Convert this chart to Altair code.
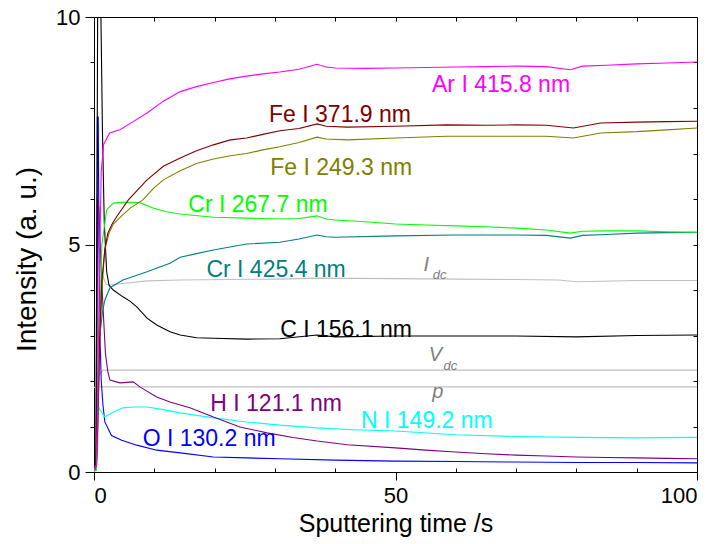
import altair as alt
import pandas as pd

# ---- emission line intensities vs sputtering time ----
ar_t = [0, 0.4, 0.6, 0.9, 1.2, 1.6, 2.6, 4.3, 6.5, 8.8, 11.5, 14.3, 17, 19.8, 22.5, 25.3, 28, 30.8, 34, 37, 38.5, 40, 45, 50, 55, 60, 65, 70, 75, 79, 81, 85, 90, 95, 100]
ar_v = [0.05, 0.15, 1.5, 4.5, 6.6, 7.2, 7.45, 7.52, 7.7, 7.89, 8.15, 8.36, 8.47, 8.56, 8.64, 8.70, 8.75, 8.79, 8.85, 8.96, 8.90, 8.88, 8.87, 8.88, 8.89, 8.90, 8.91, 8.92, 8.91, 8.84, 8.92, 8.94, 8.97, 8.99, 9.01]

fe371_t = [0, 0.4, 0.6, 0.9, 1.3, 1.8, 2.3, 3.0, 3.8, 5.7, 8.8, 11.5, 14.3, 17, 19.8, 22.6, 25.3, 28, 30.8, 34, 37, 38.5, 42, 50, 58.5, 65, 70, 75, 79.5, 82, 84, 90, 95, 100]
fe371_v = [0.05, 0.15, 1.0, 2.8, 4.2, 4.9, 5.25, 5.45, 5.62, 5.98, 6.42, 6.72, 6.9, 7.06, 7.19, 7.30, 7.34, 7.42, 7.50, 7.55, 7.65, 7.60, 7.58, 7.60, 7.63, 7.62, 7.63, 7.62, 7.56, 7.62, 7.67, 7.69, 7.70, 7.71]

fe249_t = [0, 0.4, 0.6, 0.9, 1.3, 1.8, 2.5, 3.2, 4.5, 6.0, 8.1, 10, 11.5, 14.3, 17, 19.8, 22.6, 25.3, 28, 30.8, 34, 37, 38.5, 42, 50, 58.5, 65, 70, 75, 79.5, 82, 84, 90, 95, 100]
fe249_v = [0.05, 0.12, 0.9, 2.5, 4.0, 4.9, 5.25, 5.45, 5.62, 5.8, 5.98, 6.25, 6.42, 6.62, 6.78, 6.88, 6.95, 7.0, 7.08, 7.15, 7.24, 7.36, 7.32, 7.30, 7.34, 7.38, 7.38, 7.38, 7.38, 7.34, 7.40, 7.45, 7.48, 7.52, 7.56]

cr267_t = [0, 0.4, 0.6, 0.9, 1.3, 2.1, 3.2, 4.8, 7.6, 9.8, 12, 14.3, 19.8, 25.3, 30.8, 34, 37, 38.5, 40, 45, 50, 55, 60, 65, 70, 75, 79, 81, 85, 90, 95, 100]
cr267_v = [0.02, 0.05, 0.5, 3.0, 5.0, 5.76, 5.91, 5.93, 5.92, 5.80, 5.72, 5.67, 5.60, 5.58, 5.56, 5.57, 5.63, 5.56, 5.54, 5.50, 5.45, 5.43, 5.41, 5.39, 5.36, 5.32, 5.25, 5.29, 5.30, 5.30, 5.28, 5.27]

cr425_t = [0, 0.4, 0.6, 1.0, 1.4, 1.8, 2.65, 4.8, 8.8, 12.6, 14.3, 17, 19.8, 25.3, 30.8, 34, 37, 38.5, 40, 50, 60, 70, 75, 79, 81, 85, 90, 95, 100]
cr425_v = [0.02, 0.05, 1.0, 3.05, 3.5, 3.78, 4.05, 4.22, 4.40, 4.59, 4.72, 4.80, 4.88, 5.01, 5.05, 5.12, 5.21, 5.17, 5.16, 5.19, 5.21, 5.21, 5.20, 5.14, 5.20, 5.22, 5.25, 5.26, 5.27]

c_t = [0, 0.3, 0.5, 0.65, 1.0, 1.15, 1.4, 1.7, 2.1, 2.5, 3.2, 4.8, 6, 7.1, 8.8, 10.4, 12.6, 14.3, 17, 19.8, 25.3, 30.8, 37, 40, 50, 60, 70, 80, 90, 100]
c_v = [0.02, 0.1, 6.0, 12.0, 12.0, 10.0, 7.5, 5.5, 4.4, 4.1, 4.0, 3.85, 3.75, 3.63, 3.38, 3.23, 3.08, 3.01, 2.95, 2.94, 2.92, 2.93, 3.01, 2.97, 2.99, 2.99, 2.99, 2.97, 3.00, 3.01]

h_t = [0, 0.4, 0.6, 0.8, 1.1, 1.5, 1.9, 2.3, 2.65, 4.3, 6.5, 7.6, 10.4, 12.6, 15.9, 19.8, 24.2, 28.7, 33, 37, 42, 50, 55, 60, 65, 70, 75, 80, 85, 90, 95, 100]
h_v = [0.1, 0.2, 6.0, 5.8, 4.8, 3.6, 2.6, 2.2, 2.02, 1.96, 1.98, 1.87, 1.65, 1.54, 1.41, 1.21, 0.99, 0.86, 0.76, 0.68, 0.60, 0.53, 0.48, 0.44, 0.40, 0.37, 0.35, 0.33, 0.32, 0.31, 0.30, 0.29]

n_t = [0, 0.4, 0.6, 1.0, 1.8, 3.2, 4.8, 6.5, 8.8, 11.5, 14.3, 19.8, 25.3, 30.8, 37, 43, 50, 60, 70, 80, 90, 100]
n_v = [0.02, 0.05, 1.5, 1.36, 1.21, 1.32, 1.41, 1.43, 1.43, 1.37, 1.30, 1.19, 1.10, 1.03, 0.97, 0.93, 0.90, 0.82, 0.78, 0.76, 0.75, 0.76]

o_t = [0, 0.4, 0.55, 0.7, 0.85, 1.0, 1.2, 1.5, 1.8, 2.9, 4.6, 7.1, 10.4, 14.3, 19.8, 25.3, 30.8, 40, 50, 60, 70, 80, 90, 100]
o_v = [0.02, 0.05, 7.8, 7.8, 4.5, 3.0, 2.0, 1.45, 1.1, 0.8, 0.70, 0.59, 0.48, 0.42, 0.33, 0.31, 0.29, 0.26, 0.24, 0.23, 0.22, 0.21, 0.21, 0.20]

# discharge parameters (grey traces)
idc_t = [0, 0.3, 0.5, 0.8, 1.2, 2.0, 2.65, 8.8, 14.3, 30.8, 37, 50, 60, 70, 77, 80, 90, 100]
idc_v = [0.0, 0.1, 6.1, 5.0, 4.4, 4.12, 4.11, 4.2, 4.22, 4.24, 4.26, 4.25, 4.24, 4.23, 4.22, 4.18, 4.21, 4.21]

vdc_t = [0, 0.3, 0.7, 1.5, 50, 100]
vdc_v = [0.0, 0.1, 2.1, 2.24, 2.24, 2.24]

p_t = [0, 0.5, 50, 100]
p_v = [1.86, 1.87, 1.87, 1.87]

series_names = ["p", "Vdc", "Idc", "O", "N", "H", "C", "Cr425", "Cr267", "Fe249", "Fe371", "Ar"]
series_colors = ["#c0c0c0", "#c0c0c0", "#c0c0c0", "#0000ff", "#00ffff", "#800080",
                 "#000000", "#008080", "#00ff00", "#808000", "#800000", "#ff00ff"]
series_data = [(p_t, p_v), (vdc_t, vdc_v), (idc_t, idc_v), (o_t, o_v), (n_t, n_v), (h_t, h_v),
               (c_t, c_v), (cr425_t, cr425_v), (cr267_t, cr267_v), (fe249_t, fe249_v),
               (fe371_t, fe371_v), (ar_t, ar_v)]

# in-plot line labels
label_text = ["Ar I 415.8 nm", "Fe I 371.9 nm", "Fe I 249.3 nm", "Cr I 267.7 nm", "Cr I 425.4 nm",
              "C I 156.1 nm", "H I 121.1 nm", "N I 149.2 nm", "O I 130.2 nm"]
label_t = [67.5, 40.8, 41.0, 27.2, 30.2, 41.8, 30.2, 55.2, 19.1]
label_v = [8.35, 7.69, 6.53, 5.71, 4.29, 2.97, 1.34, 0.97, 0.57]
label_color = ["#ff00ff", "#800000", "#808000", "#00ff00", "#008080", "#000000", "#800080", "#00ffff", "#0000ff"]

# italic symbols for the discharge parameters (main letter + subscript)
sym_text = ["I", "dc", "V", "dc", "p"]
sym_t = [55.1, 57.3, 56.6, 59.1, 57.0]
sym_v = [4.42, 4.24, 2.44, 2.24, 1.62]
sym_size = [20, 13, 20, 13, 20]

x_major = [0, 50, 100]
x_minor = [10, 20, 30, 40, 60, 70, 80, 90]
x_top = [10, 20, 30, 40, 50, 60, 70, 80, 90]
y_major = [0, 5, 10]
y_minor = [1, 2, 3, 4, 6, 7, 8, 9]
y_right = [1, 2, 3, 4, 5, 6, 7, 8, 9]

W, H = 603, 455
FONT = "Liberation Sans"

rows = []
for name, (ts, vs) in zip(series_names, series_data):
    for i, (t, v) in enumerate(zip(ts, vs)):
        rows.append({"series": name, "t": t, "v": v, "i": i})
df = pd.DataFrame(rows)

labels_df = pd.DataFrame({"text": label_text, "t": label_t, "v": label_v, "color": label_color})
sym_df = pd.DataFrame({"text": sym_text, "t": sym_t, "v": sym_v, "size": sym_size})

xs = alt.Scale(domain=[0, 100], nice=False, zero=False)
ys = alt.Scale(domain=[0, 10], nice=False, zero=False)

lines = alt.Chart(df).mark_line(strokeWidth=1.1, clip=True).encode(
    x=alt.X("t:Q", scale=xs, axis=alt.Axis(
        orient="bottom", values=x_major, tickSize=8, title="Sputtering time /s",
        labelPadding=5, titlePadding=5, titleFontSize=25, grid=False, format="d")),
    y=alt.Y("v:Q", scale=ys, axis=alt.Axis(
        orient="left", values=y_major, tickSize=9, title="Intensity (a. u.)",
        labelPadding=5, titlePadding=14, titleFontSize=28, titleY=242,
        grid=False, format="d")),
    color=alt.Color("series:N", scale=alt.Scale(domain=series_names, range=series_colors), legend=None),
    order="i:Q",
)

# minor ticks: inward on the bottom edge, outward on the left edge
minor_a = alt.Chart(df).mark_point(opacity=0).encode(
    x=alt.X("t:Q", scale=xs, axis=alt.Axis(
        orient="top", offset=-H, values=x_minor, tickSize=4, labels=False,
        domain=False, title=None, grid=False)),
    y=alt.Y("v:Q", scale=ys, axis=alt.Axis(
        orient="left", values=y_minor, tickSize=4, labels=False,
        domain=False, title=None, grid=False)),
)

# inward ticks along the top and right frame
minor_b = alt.Chart(df).mark_point(opacity=0).encode(
    x=alt.X("t:Q", scale=xs, axis=alt.Axis(
        orient="bottom", offset=-H, values=x_top, tickSize=4, labels=False,
        domain=False, title=None, grid=False)),
    y=alt.Y("v:Q", scale=ys, axis=alt.Axis(
        orient="left", offset=-W, values=y_right, tickSize=4, labels=False,
        domain=False, title=None, grid=False)),
)

text_layer = alt.Chart(labels_df).mark_text(
    font=FONT, fontSize=23, align="center", baseline="alphabetic"
).encode(
    x=alt.X("t:Q", scale=xs, axis=None),
    y=alt.Y("v:Q", scale=ys, axis=None),
    text="text:N",
    color=alt.Color("color:N", scale=None),
)

sym_layer = alt.Chart(sym_df).mark_text(
    font=FONT, fontStyle="italic", color="#808080", align="center", baseline="alphabetic"
).encode(
    x=alt.X("t:Q", scale=xs, axis=None),
    y=alt.Y("v:Q", scale=ys, axis=None),
    text="text:N",
    size=alt.Size("size:Q", scale=None),
)

chart = alt.layer(lines, minor_a, minor_b, text_layer, sym_layer).resolve_axis(
    x="independent", y="independent"
).properties(
    width=W, height=H,
    autosize=alt.AutoSizeParams(type="none"),
    padding={"left": 94, "top": 17, "right": 18, "bottom": 72},
    background="white",
).configure_view(
    stroke="black", strokeWidth=1
).configure_axis(
    labelFont=FONT, titleFont=FONT, labelFontSize=22, titleFontSize=24,
    labelColor="black", titleColor="black", titleFontWeight="normal",
    tickColor="black", domainColor="black", tickWidth=1, domainWidth=1,
)

chart.save("out.html", embed_options={"renderer": "svg", "actions": False})
